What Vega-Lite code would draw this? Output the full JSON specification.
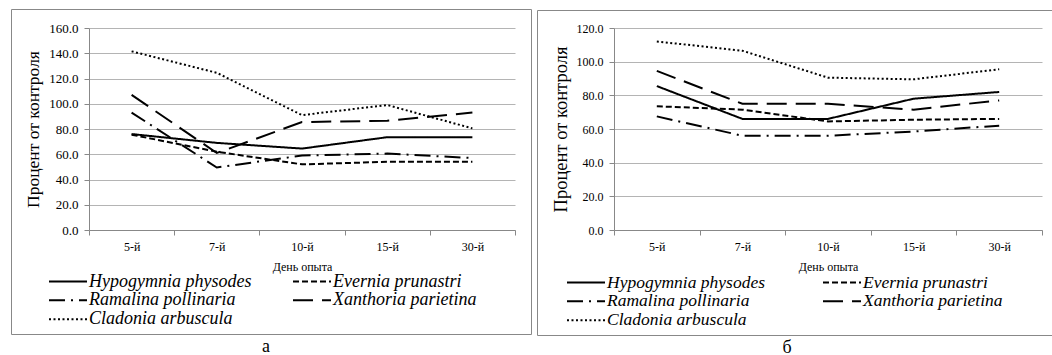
{
  "$schema": "https://vega.github.io/schema/vega-lite/v6.json",
  "background": "white",
  "padding": {"left": 10, "top": 8, "right": 0, "bottom": 0},
  "spacing": 4,
  "datasets": {
    "a": [
      {"day": "5-й", "species": "Hypogymnia physodes", "value": 76},
      {"day": "7-й", "species": "Hypogymnia physodes", "value": 69},
      {"day": "10-й", "species": "Hypogymnia physodes", "value": 64.5},
      {"day": "15-й", "species": "Hypogymnia physodes", "value": 73.5},
      {"day": "30-й", "species": "Hypogymnia physodes", "value": 73.5},
      {"day": "5-й", "species": "Evernia prunastri", "value": 75.5},
      {"day": "7-й", "species": "Evernia prunastri", "value": 62},
      {"day": "10-й", "species": "Evernia prunastri", "value": 52},
      {"day": "15-й", "species": "Evernia prunastri", "value": 54},
      {"day": "30-й", "species": "Evernia prunastri", "value": 54},
      {"day": "5-й", "species": "Ramalina pollinaria", "value": 93},
      {"day": "7-й", "species": "Ramalina pollinaria", "value": 49.5},
      {"day": "10-й", "species": "Ramalina pollinaria", "value": 59},
      {"day": "15-й", "species": "Ramalina pollinaria", "value": 60.5},
      {"day": "30-й", "species": "Ramalina pollinaria", "value": 57},
      {"day": "5-й", "species": "Xanthoria parietina", "value": 107},
      {"day": "7-й", "species": "Xanthoria parietina", "value": 61},
      {"day": "10-й", "species": "Xanthoria parietina", "value": 85.5},
      {"day": "15-й", "species": "Xanthoria parietina", "value": 86.5},
      {"day": "30-й", "species": "Xanthoria parietina", "value": 93},
      {"day": "5-й", "species": "Cladonia arbuscula", "value": 141.5},
      {"day": "7-й", "species": "Cladonia arbuscula", "value": 124.5},
      {"day": "10-й", "species": "Cladonia arbuscula", "value": 91},
      {"day": "15-й", "species": "Cladonia arbuscula", "value": 99},
      {"day": "30-й", "species": "Cladonia arbuscula", "value": 80.5}
    ],
    "b": [
      {"day": "5-й", "species": "Hypogymnia physodes", "value": 85.5},
      {"day": "7-й", "species": "Hypogymnia physodes", "value": 66},
      {"day": "10-й", "species": "Hypogymnia physodes", "value": 66},
      {"day": "15-й", "species": "Hypogymnia physodes", "value": 78},
      {"day": "30-й", "species": "Hypogymnia physodes", "value": 82},
      {"day": "5-й", "species": "Evernia prunastri", "value": 73.5},
      {"day": "7-й", "species": "Evernia prunastri", "value": 71.5},
      {"day": "10-й", "species": "Evernia prunastri", "value": 64.5},
      {"day": "15-й", "species": "Evernia prunastri", "value": 65.5},
      {"day": "30-й", "species": "Evernia prunastri", "value": 66},
      {"day": "5-й", "species": "Ramalina pollinaria", "value": 67.5},
      {"day": "7-й", "species": "Ramalina pollinaria", "value": 56},
      {"day": "10-й", "species": "Ramalina pollinaria", "value": 56},
      {"day": "15-й", "species": "Ramalina pollinaria", "value": 58.5},
      {"day": "30-й", "species": "Ramalina pollinaria", "value": 62},
      {"day": "5-й", "species": "Xanthoria parietina", "value": 94.5},
      {"day": "7-й", "species": "Xanthoria parietina", "value": 75},
      {"day": "10-й", "species": "Xanthoria parietina", "value": 75},
      {"day": "15-й", "species": "Xanthoria parietina", "value": 71.5},
      {"day": "30-й", "species": "Xanthoria parietina", "value": 77},
      {"day": "5-й", "species": "Cladonia arbuscula", "value": 112},
      {"day": "7-й", "species": "Cladonia arbuscula", "value": 106.5},
      {"day": "10-й", "species": "Cladonia arbuscula", "value": 90.5},
      {"day": "15-й", "species": "Cladonia arbuscula", "value": 89.5},
      {"day": "30-й", "species": "Cladonia arbuscula", "value": 95.5}
    ]
  },
  "hconcat": [
    {
      "data": {"name": "a"},
      "width": 426,
      "height": 202,
      "title": {"text": "а", "orient": "bottom", "anchor": "middle", "frame": "bounds", "offset": 3, "dx": -5},
      "mark": {"type": "line", "color": "black", "strokeWidth": 2},
      "encoding": {
        "x": {
          "field": "day", "type": "ordinal",
          "sort": ["5-й", "7-й", "10-й", "15-й", "30-й"],
          "scale": {"type": "band", "paddingInner": 0, "paddingOuter": 0},
          "bandPosition": 0.5,
          "axis": {"title": "День опыта"}
        },
        "y": {
          "field": "value", "type": "quantitative",
          "scale": {"domain": [0, 160], "nice": false},
          "axis": {"values": [0, 20, 40, 60, 80, 100, 120, 140, 160], "title": "Процент от контроля", "titleFontSize": 17.5, "labelFontSize": 13}
        },
        "strokeDash": {
          "field": "species", "type": "nominal",
          "scale": {
            "domain": ["Hypogymnia physodes", "Evernia prunastri", "Ramalina pollinaria", "Xanthoria parietina", "Cladonia arbuscula"],
            "range": [[1, 0], [6, 3], [16, 6, 2, 6], [20, 9], [2, 2.5]]
          },
          "legend": {
            "legendX": -78, "legendY": -19, "padding": 5, "strokeColor": "#888888",
            "title": "MMMMMMMMMMMMMMMMMMMMMMMMMMMMMMMMMMMMMMMMMMMMMMMMMMMMMMMMMMMMMMMMMMMMMMMMMMMMMMMMMMMMMMMMMMMMMMMMMMMMMMMMMMMMMMMMMMMMMMMMMMMMMMMMMMMMMMMMMMMMMMMMMMMMMMMMMMMMMMMMMMMMMMMMMMMMMMMMMMMMMMMMMMMMMMMM",
            "titleFontSize": 4, "titleLimit": 513, "titlePadding": 254, "titleOpacity": 0,
            "symbolOffset": 32, "columnPadding": 8
          }
        }
      }
    },
    {
      "data": {"name": "b"},
      "width": 428,
      "height": 202,
      "title": {"text": "б", "orient": "bottom", "anchor": "middle", "frame": "bounds", "offset": 3, "dx": -10},
      "mark": {"type": "line", "color": "black", "strokeWidth": 2},
      "encoding": {
        "x": {
          "field": "day", "type": "ordinal",
          "sort": ["5-й", "7-й", "10-й", "15-й", "30-й"],
          "scale": {"type": "band", "paddingInner": 0, "paddingOuter": 0},
          "bandPosition": 0.5,
          "axis": {"title": "День опыта"}
        },
        "y": {
          "field": "value", "type": "quantitative",
          "scale": {"domain": [0, 120], "nice": false},
          "axis": {"values": [0, 20, 40, 60, 80, 100, 120], "title": "Процент от контроля", "titleFontSize": 18.5, "labelFontSize": 12}
        },
        "strokeDash": {
          "field": "species", "type": "nominal",
          "scale": {
            "domain": ["Hypogymnia physodes", "Evernia prunastri", "Ramalina pollinaria", "Xanthoria parietina", "Cladonia arbuscula"],
            "range": [[1, 0], [6, 3], [16, 6, 2, 6], [20, 9], [2, 2.5]]
          },
          "legend": {
            "legendX": -77, "legendY": -18, "padding": 5, "strokeColor": "#888888",
            "title": "MMMMMMMMMMMMMMMMMMMMMMMMMMMMMMMMMMMMMMMMMMMMMMMMMMMMMMMMMMMMMMMMMMMMMMMMMMMMMMMMMMMMMMMMMMMMMMMMMMMMMMMMMMMMMMMMMMMMMMMMMMMMMMMMMMMMMMMMMMMMMMMMMMMMMMMMMMMMMMMMMMMMMMMMMMMMMMMMMMMMMMMMMMMMMMMM",
            "titleFontSize": 4, "titleLimit": 510, "titlePadding": 254, "titleOpacity": 0,
            "symbolOffset": 24, "columnPadding": 33, "labelFontSize": 17.5
          }
        }
      }
    }
  ],
  "resolve": {"scale": {"strokeDash": "independent"}, "legend": {"strokeDash": "independent"}},
  "config": {
    "font": "Liberation Serif, Times New Roman, serif",
    "view": {"stroke": null},
    "title": {"font": "Liberation Serif, Times New Roman, serif", "fontSize": 18, "fontWeight": "normal", "color": "black"},
    "axis": {
      "labelFont": "Liberation Serif, Times New Roman, serif", "titleFont": "Liberation Serif, Times New Roman, serif",
      "labelColor": "black", "titleColor": "black",
      "titleFontWeight": "normal",
      "domainColor": "#888888", "tickColor": "#888888", "gridColor": "#b4b4b4",
      "tickSize": 5, "labelPadding": 6
    },
    "axisX": {"labelAngle": 0, "labelFontSize": 12, "titleFontSize": 12, "tickBand": "extent", "grid": false, "titlePadding": 9},
    "axisY": {"format": ".1f", "titlePadding": 6, "grid": true},
    "legend": {
      "orient": "none", "columns": 2, "direction": "horizontal", "clipHeight": 18.5,
      "symbolType": "stroke", "symbolSize": 1444, "symbolStrokeWidth": 2, "symbolStrokeColor": "black",
      "labelFont": "Liberation Serif, Times New Roman, serif", "labelFontStyle": "italic", "labelFontSize": 18, "labelColor": "black",
      "labelOffset": 1, "rowPadding": 0, "labelLimit": 400
    }
  }
}
